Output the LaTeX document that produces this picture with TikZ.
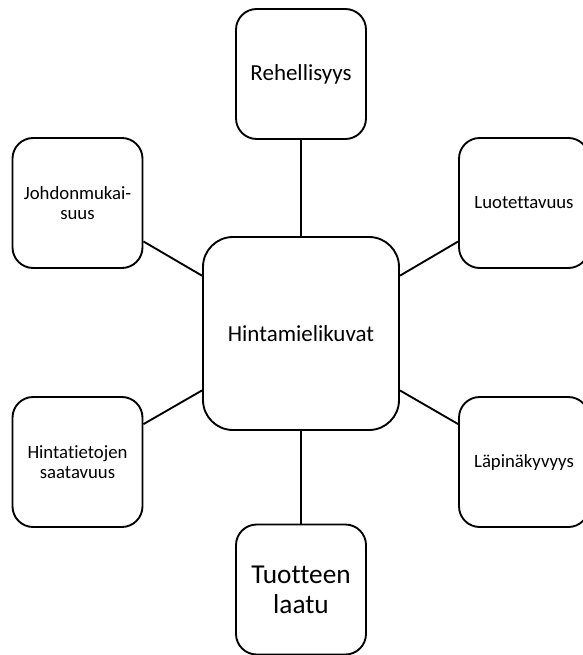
\documentclass[tikz,border=0pt]{standalone}
\usepackage{fontspec}
\setmainfont{Carlito}[Ligatures=NoCommon]
\usepackage{tikz}

\tikzset{
  ominaisuus/.style={draw, line width=1.6pt, rounded corners=0.62cm, minimum width=3.9cm, minimum height=3.9cm, align=center, inner sep=2pt, font=\fontsize{16}{16.8}\selectfont},
  keskus/.style={draw, line width=1.6pt, rounded corners=0.9cm, minimum width=5.88cm, minimum height=5.79cm, align=center, font=\fontsize{19.6}{22}\selectfont},
  yhteys/.style={line width=1.6pt}
}

\begin{document}
\begin{tikzpicture}[x=0.03cm, y=-0.03cm]
         \useasboundingbox (0,0) rectangle (582,655);
          % keskella
          \node[keskus] (hinta) at (301,333.5) {Hintamielikuvat};
          % ympärillä
          \node[ominaisuus, font=\fontsize{19.6}{22}\selectfont] (rehel) at (301,74) {Rehellisyys};
          \node[ominaisuus] (johdon) at (77.5,203) {Johdonmukai-\\suus};
          \node[ominaisuus] (luot) at (524,203) {Luotettavuus};
          \node[ominaisuus] (saata) at (77.5,462) {Hintatietojen\\saatavuus};
          \node[ominaisuus] (lapi) at (524,462) {Läpinäkyvyys};
          \node[ominaisuus, font=\fontsize{23.3}{25.8}\selectfont] (laatu) at (301,589.5) {Tuotteen\\laatu};
          % viivat
          \foreach \osa in {rehel, johdon, luot, saata, lapi, laatu}
            \draw[yhteys] (hinta) -- (\osa);
      \end{tikzpicture}
\end{document}
